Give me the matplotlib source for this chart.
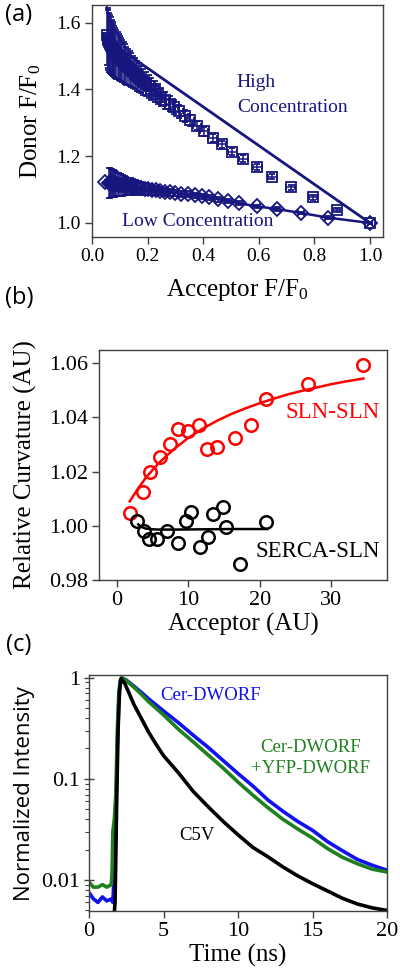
import matplotlib
matplotlib.use('Agg')
import matplotlib.pyplot as plt
from matplotlib.ticker import FixedLocator, NullFormatter, LogLocator

plt.rcParams['font.family'] = 'serif'
plt.rcParams['font.serif'] = ['Liberation Serif', 'DejaVu Serif']
plt.rcParams['mathtext.fontset'] = 'custom'
plt.rcParams['mathtext.rm'] = 'Liberation Serif'
plt.rcParams['mathtext.it'] = 'Liberation Serif:italic'

NAVY = '#16167e'
FRAME = '#404040'

# ---- panel (a): donor vs acceptor F/F0 ----
hi_x = [1.0, 0.88, 0.796, 0.715, 0.649, 0.595, 0.544, 0.505, 0.467, 0.434,
        0.404, 0.378, 0.354, 0.333, 0.313, 0.295, 0.279, 0.264, 0.25, 0.237,
        0.225, 0.214, 0.204, 0.194, 0.185, 0.177, 0.169, 0.161, 0.154, 0.147,
        0.141, 0.135, 0.129, 0.124, 0.119, 0.114, 0.109, 0.104, 0.1, 0.096,
        0.092, 0.088, 0.084, 0.08, 0.077, 0.074, 0.071, 0.068, 0.065, 0.062,
        0.059, 0.056, 0.053]
hi_y = [1.0, 1.039, 1.077, 1.107, 1.139, 1.167, 1.193, 1.214, 1.236, 1.256,
        1.275, 1.292, 1.307, 1.321, 1.334, 1.346, 1.357, 1.367, 1.377, 1.386,
        1.394, 1.402, 1.409, 1.416, 1.423, 1.429, 1.435, 1.441, 1.447, 1.452,
        1.457, 1.462, 1.467, 1.471, 1.476, 1.48, 1.485, 1.489, 1.493, 1.497,
        1.501, 1.505, 1.509, 1.514, 1.518, 1.522, 1.526, 1.531, 1.536, 1.541,
        1.547, 1.554, 1.562]
hi_yerr = [0.004, 0.006, 0.007, 0.008, 0.008, 0.009, 0.01, 0.01, 0.011, 0.012,
           0.013, 0.014, 0.016, 0.018, 0.02, 0.021, 0.023, 0.025, 0.027, 0.029,
           0.031, 0.033, 0.035, 0.037, 0.039, 0.041, 0.043, 0.045, 0.047, 0.049,
           0.051, 0.053, 0.055, 0.057, 0.059, 0.061, 0.063, 0.065, 0.067, 0.069,
           0.071, 0.073, 0.075, 0.077, 0.079, 0.081, 0.083, 0.085, 0.087, 0.089,
           0.09, 0.09, 0.09]
hi_xerr = [0.006, 0.012, 0.015, 0.016, 0.016, 0.016, 0.016, 0.015, 0.015, 0.015,
           0.015, 0.014, 0.014, 0.014, 0.014, 0.013, 0.013, 0.013, 0.013, 0.012,
           0.012, 0.012, 0.012, 0.012, 0.011, 0.011, 0.011, 0.011, 0.011, 0.011,
           0.01, 0.01, 0.01, 0.01, 0.01, 0.01, 0.01, 0.01, 0.01, 0.01,
           0.01, 0.01, 0.01, 0.01, 0.01, 0.01, 0.01, 0.01, 0.01, 0.01,
           0.01, 0.01, 0.01]
hi_line_x = [0.06, 1.0]
hi_line_y = [1.545, 1.0]

lo_x = [1.0, 0.85, 0.752, 0.664, 0.592, 0.53, 0.49, 0.455, 0.42, 0.395,
        0.37, 0.345, 0.322, 0.3, 0.28, 0.262, 0.245, 0.23, 0.215, 0.202,
        0.19, 0.178, 0.167, 0.157, 0.148, 0.139, 0.131, 0.124, 0.117, 0.11,
        0.104, 0.098, 0.093, 0.088, 0.083, 0.079, 0.075, 0.071, 0.067, 0.063,
        0.06, 0.045]
lo_y = [1.0, 1.016, 1.03, 1.042, 1.05, 1.059, 1.066, 1.071, 1.077, 1.08,
        1.083, 1.086, 1.088, 1.09, 1.092, 1.094, 1.096, 1.098, 1.1, 1.101,
        1.103, 1.104, 1.106, 1.107, 1.108, 1.109, 1.11, 1.111, 1.112, 1.113,
        1.114, 1.115, 1.116, 1.117, 1.117, 1.118, 1.119, 1.119, 1.12, 1.12,
        1.121, 1.122]
lo_yerr = [0.003, 0.004, 0.004, 0.005, 0.005, 0.006, 0.006, 0.007, 0.007, 0.008,
           0.008, 0.009, 0.009, 0.01, 0.011, 0.012, 0.013, 0.014, 0.015, 0.016,
           0.018, 0.019, 0.02, 0.022, 0.023, 0.025, 0.026, 0.028, 0.029, 0.031,
           0.032, 0.034, 0.035, 0.037, 0.038, 0.04, 0.041, 0.042, 0.043, 0.044,
           0.045, 0.0]
lo_xerr = [0.006, 0.012, 0.012, 0.012, 0.012, 0.012, 0.012, 0.012, 0.011, 0.011,
           0.011, 0.011, 0.011, 0.01, 0.01, 0.01, 0.01, 0.01, 0.01, 0.01,
           0.01, 0.01, 0.01, 0.01, 0.01, 0.01, 0.01, 0.01, 0.01, 0.01,
           0.01, 0.01, 0.01, 0.01, 0.01, 0.01, 0.01, 0.01, 0.01, 0.01,
           0.01, 0.0]

# ---- panel (b): relative curvature vs acceptor ----
sln_x = [1.8, 3.7, 4.6, 6.0, 7.4, 8.6, 10.0, 11.5, 12.6, 14.0, 16.6, 18.7, 20.9, 26.8, 34.5]
sln_y = [1.0046, 1.0125, 1.020, 1.0253, 1.030, 1.0357, 1.0349, 1.037, 1.0283, 1.029,
         1.0325, 1.037, 1.0467, 1.0521, 1.0593]
sln_fit_x = [1.8, 3, 4, 5, 6, 8, 10, 12, 14, 16, 18, 20, 22, 24, 26, 28, 30, 32, 34.5]
sln_fit_y = [1.0090, 1.0139, 1.0175, 1.0206, 1.0235, 1.0283, 1.0324, 1.0358, 1.0387, 1.0412,
             1.0433, 1.0452, 1.0469, 1.0485, 1.0498, 1.0510, 1.0522, 1.0532, 1.0543]
serca_x = [2.75, 3.8, 4.5, 5.6, 7.0, 8.6, 9.7, 10.4, 11.7, 12.8, 13.4, 14.8, 15.3, 17.3, 20.9]
serca_y = [1.0019, 0.9981, 0.9951, 0.995, 0.9979, 0.9938, 1.0019, 1.0049, 0.9922, 0.996,
           1.0043, 1.0071, 0.9996, 0.9858, 1.0015]
serca_fit_x = [3.0, 3.5, 4.0, 5.0, 6.0, 8.0, 12.0, 16.0, 21.0]
serca_fit_y = [1.0005, 0.9995, 0.999, 0.9987, 0.9986, 0.9986, 0.9987, 0.9988, 0.9988]

# ---- panel (c): fluorescence lifetime decays ----
t_blue = [0, 0.3, 0.6, 0.9, 1.2, 1.5, 1.6, 1.7, 1.8, 1.9, 2.0, 2.1, 2.2, 2.5, 3, 3.5,
          4, 4.5, 5, 6, 7, 8, 9, 10, 11, 12, 13, 14, 15, 16, 17, 18, 19, 20]
i_blue = [0.0075, 0.0065, 0.006, 0.0068, 0.0062, 0.0065, 0.006, 0.012, 0.04, 0.2, 0.6, 0.92,
          1.0, 0.95, 0.83, 0.72, 0.62, 0.54, 0.47, 0.36, 0.27, 0.205, 0.152, 0.113, 0.085,
          0.062, 0.048, 0.038, 0.031, 0.024, 0.0195, 0.016, 0.014, 0.0125]
t_green = [0, 0.3, 0.6, 0.9, 1.2, 1.5, 1.55, 1.6, 1.7, 1.8, 1.9, 2.0, 2.1, 2.2, 2.5, 3,
           3.5, 4, 4.5, 5, 6, 7, 8, 9, 10, 11, 12, 13, 14, 15, 16, 17, 18, 19, 20]
i_green = [0.0095, 0.0085, 0.0085, 0.009, 0.0085, 0.009, 0.012, 0.03, 0.04, 0.07, 0.3, 0.7,
           0.95, 1.0, 0.94, 0.81, 0.69, 0.58, 0.5, 0.43, 0.31, 0.232, 0.172, 0.128, 0.093,
           0.069, 0.052, 0.04, 0.032, 0.026, 0.0205, 0.0168, 0.0145, 0.0128, 0.012]
t_black = [0, 1.0, 1.6, 1.75, 1.85, 1.95, 2.05, 2.15, 2.4, 2.7, 3.0, 3.5, 4, 4.5, 5,
           6, 7, 8, 9, 10, 11, 12, 13, 14, 15, 16, 17, 18, 19, 20]
i_black = [0.003, 0.003, 0.003, 0.006, 0.05, 0.3, 0.75, 0.98, 0.88, 0.7, 0.55, 0.4, 0.29,
           0.22, 0.17, 0.115, 0.075, 0.053, 0.038, 0.028, 0.021, 0.017, 0.0135, 0.011,
           0.0092, 0.0078, 0.0066, 0.0058, 0.0053, 0.005]


def style_axes(ax, tick_size):
    for sp in ax.spines.values():
        sp.set_color(FRAME)
        sp.set_linewidth(1.0)
    ax.tick_params(direction='out', length=5, width=1, color=FRAME,
                   labelsize=tick_size, pad=3)


fig = plt.figure(figsize=(4, 9.75), dpi=100)

# Panel (a)
ax1 = fig.add_axes([0.23, 0.7569, 0.7275, 0.238])
ax1.errorbar(hi_x, hi_y, yerr=hi_yerr, xerr=hi_xerr, fmt='s', ms=7, mfc='none',
             mec=NAVY, mew=1.3, ecolor=NAVY, elinewidth=1.1, capsize=2.5, capthick=1.1)
ax1.plot(hi_line_x, hi_line_y, color=NAVY, lw=2)
ax1.errorbar(lo_x, lo_y, yerr=lo_yerr, xerr=lo_xerr, fmt='D-', ms=7, mfc='none',
             mec=NAVY, mew=1.3, color=NAVY, lw=1.8, ecolor=NAVY, elinewidth=1.1,
             capsize=2.5, capthick=1.1)
ax1.set_xlim(0, 1.047)
ax1.set_ylim(0.958, 1.653)
ax1.set_xticks([0.0, 0.2, 0.4, 0.6, 0.8, 1.0])
ax1.set_xticklabels(['0.0', '0.2', '0.4', '0.6', '0.8', '1.0'])
ax1.set_yticks([1.0, 1.2, 1.4, 1.6])
ax1.set_yticklabels(['1.0', '1.2', '1.4', '1.6'])
style_axes(ax1, 14)
ax1.text(0.518, 1.42, 'High', color=NAVY, fontsize=14, ha='left', va='center')
ax1.text(0.523, 1.345, 'Concentration', color=NAVY, fontsize=14, ha='left', va='center')
ax1.text(0.108, 1.003, 'Low Concentration', color=NAVY, fontsize=14, ha='left', va='center')
ax1.set_xlabel(r'Acceptor F/F$_0$', fontsize=18, va='center')
ax1.set_ylabel(r'Donor F/F$_0$', fontsize=18, va='center')
ax1.xaxis.set_label_coords(0.5, -0.228)
ax1.yaxis.set_label_coords(-0.21, 0.5)

# Panel (b)
ax2 = fig.add_axes([0.2475, 0.4051, 0.72, 0.2359])
ax2.plot(sln_fit_x, sln_fit_y, color='red', lw=1.8)
ax2.plot(sln_x, sln_y, 'o', ms=9, mfc='none', mec='red', mew=1.8)
ax2.plot(serca_fit_x, serca_fit_y, color='black', lw=1.8)
ax2.plot(serca_x, serca_y, 'o', ms=9, mfc='none', mec='black', mew=1.8)
ax2.set_xlim(-2.5, 37.8)
ax2.set_ylim(0.98, 1.0648)
ax2.set_xticks([0, 10, 20, 30])
ax2.set_yticks([0.98, 1.00, 1.02, 1.04, 1.06])
ax2.set_yticklabels(['0.98', '1.00', '1.02', '1.04', '1.06'])
style_axes(ax2, 16)
ax2.text(30.2, 1.0418, 'SLN-SLN', color='red', fontsize=16.5, ha='center', va='center')
ax2.text(28.1, 0.9907, 'SERCA-SLN', color='black', fontsize=16.5, ha='center', va='center')
ax2.set_xlabel('Acceptor (AU)', fontsize=18, va='center')
ax2.set_ylabel('Relative Curvature (AU)', fontsize=18, va='center')
ax2.xaxis.set_label_coords(0.5, -0.195)
ax2.yaxis.set_label_coords(-0.257, 0.5)

# Panel (c)
ax3 = fig.add_axes([0.2225, 0.0656, 0.745, 0.242])
ax3.semilogy(t_blue, i_blue, color='#1010f0', lw=2.6)
ax3.semilogy(t_green, i_green, color='#1f801f', lw=2.6)
ax3.semilogy(t_black, i_black, color='black', lw=2.6)
ax3.set_xlim(0, 20)
ax3.set_ylim(0.00493, 1.064)
ax3.set_xticks([0, 5, 10, 15, 20])
ax3.yaxis.set_major_locator(FixedLocator([0.01, 0.1, 1]))
ax3.set_yticklabels(['0.01', '0.1', '1'])
ax3.yaxis.set_minor_locator(LogLocator(base=10, subs=range(2, 10)))
ax3.yaxis.set_minor_formatter(NullFormatter())
style_axes(ax3, 16)
ax3.tick_params(axis='y', which='major', direction='inout', length=7)
ax3.tick_params(axis='y', which='minor', direction='out', length=3, width=0.8, color=FRAME)
ax3.text(8.13, 0.674, 'Cer-DWORF', color='#1010f0', fontsize=13.5, ha='center', va='center')
ax3.text(14.87, 0.206, 'Cer-DWORF', color='#1f801f', fontsize=13.5, ha='center', va='center')
ax3.text(14.87, 0.128, '+YFP-DWORF', color='#1f801f', fontsize=13.5, ha='center', va='center')
ax3.text(7.26, 0.0277, 'C5V', color='black', fontsize=13.5, ha='center', va='center')
ax3.set_xlabel('Time (ns)', fontsize=18, va='center')
ax3.set_ylabel('Normalized Intensity', fontsize=16, family='Open Sans', va='center')
ax3.xaxis.set_label_coords(0.5, -0.19)
ax3.yaxis.set_label_coords(-0.215, 0.5)

# panel letters
for label, ypix in [('(a)', 15), ('(b)', 298), ('(c)', 645)]:
    fig.text(19 / 400, 1 - ypix / 975, label, fontsize=17, family='Open Sans',
             ha='center', va='center')

fig.savefig('out.png', dpi=100)
